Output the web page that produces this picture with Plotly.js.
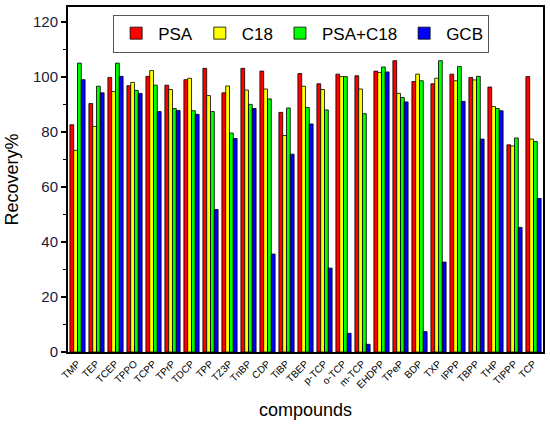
<!DOCTYPE html>
<html>
<head>
<meta charset="utf-8">
<script src="https://cdn.plot.ly/plotly-3.0.1.min.js"></script>
<style>html,body{margin:0;padding:0;background:#fff;}#chart{width:550px;height:428px;}</style>
</head>
<body>
<div id="chart"></div>
<script>
var categories = ["TMP","TEP","TCEP","TPPO","TCPP","TPrP","TDCP","TPP","TZ3P","TnBP","CDP","TiBP","TBEP","p-TCP","o-TCP","m-TCP","EHDPP","TPeP","BDP","TXP","IPPP","TBPP","THP","TIPPP","TCP"];
var psa    = [82.6, 90.3, 99.8, 96.8, 100.2, 97.0, 99.0, 103.1, 94.2, 103.1, 102.1, 87.1, 101.2, 97.5, 101.0, 100.4, 102.1, 105.9, 98.3, 97.5, 101.0, 99.8, 96.3, 75.3, 100.1];
var c18    = [73.3, 82.0, 94.7, 98.0, 102.3, 95.4, 99.5, 93.2, 96.7, 95.2, 95.6, 78.7, 96.6, 95.4, 100.1, 95.6, 101.6, 94.0, 101.0, 99.5, 98.6, 98.9, 89.2, 74.9, 77.4];
var psaC18 = [105.0, 96.6, 105.0, 95.1, 97.0, 88.5, 87.7, 87.4, 79.6, 90.0, 92.0, 88.7, 88.9, 88.0, 100.1, 86.6, 103.6, 92.5, 98.6, 105.9, 103.8, 100.2, 88.5, 77.8, 76.5];
var gcb    = [99.0, 94.2, 100.2, 94.0, 87.4, 87.8, 86.4, 51.8, 77.6, 88.5, 35.6, 71.9, 82.9, 30.5, 6.8, 2.8, 101.8, 90.9, 7.4, 32.7, 91.1, 77.4, 87.7, 45.3, 55.8];
var seriesNames = ["PSA", "C18", "PSA+C18", "GCB"];
var seriesValues = [psa, c18, psaC18, gcb];
var seriesColors = ["#FF0000", "#FFFF00", "#00FF00", "#0000FF"];
var yTicks = [0, 20, 40, 60, 80, 100, 120];

var idx = categories.map(function(_, i){ return i; });
var traces = seriesValues.map(function(vals, k){
  return {
    type: "bar",
    name: seriesNames[k],
    x: idx,
    y: vals,
    marker: {color: seriesColors[k], line: {color: "#000", width: 0.8}}
  };
});

var layout = {
  width: 550, height: 428,
  margin: {l: 68, r: 7, t: 7, b: 76, pad: 0},
  paper_bgcolor: "#fff", plot_bgcolor: "#fff",
  barmode: "group", bargap: 0.2, bargroupgap: 0,
  font: {family: "Arial, Liberation Sans, sans-serif", color: "#000"},
  showlegend: true,
  legend: {
    orientation: "h", x: 0.095, y: 0.978, xanchor: "left", yanchor: "top",
    bordercolor: "#555", borderwidth: 1, bgcolor: "#fff",
    font: {size: 17, color: "#000"}, itemwidth: 34, tracegroupgap: 0
  },
  xaxis: {
    range: [-0.5, 24.5],
    tickmode: "array", tickvals: idx, ticktext: categories,
    tickangle: -45, tickfont: {size: 10, color: "#000"},
    ticks: "inside", ticklen: 6, tickwidth: 1.5, tickcolor: "#000",
    showline: true, linecolor: "#000", linewidth: 2, mirror: true,
    showgrid: false, zeroline: false,
    title: {text: "compounds", font: {size: 18, color: "#000"}, standoff: 14}
  },
  yaxis: {
    range: [0, 125.4],
    tickmode: "array", tickvals: yTicks,
    tickfont: {size: 15, color: "#1a1a3a"},
    ticks: "outside", ticklen: 5, tickwidth: 1.5, tickcolor: "#000",
    minor: {tickvals: [10, 30, 50, 70, 90, 110], ticks: "outside", ticklen: 3, tickcolor: "#000", tickwidth: 1},
    showline: true, linecolor: "#000", linewidth: 2, mirror: true,
    showgrid: false, zeroline: false,
    title: {text: "Recovery%", font: {size: 18, color: "#000"}, standoff: 10}
  }
};

Plotly.newPlot("chart", traces, layout, {displayModeBar: false, staticPlot: true});
</script>
</body>
</html>
